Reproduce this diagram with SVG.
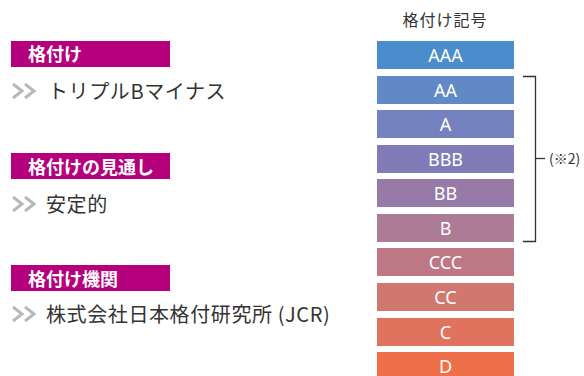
<svg xmlns="http://www.w3.org/2000/svg" width="584" height="376" viewBox="0 0 584 376">
<style>
.hd{fill:#b5007d}
.hdt{font-family:"Noto Sans CJK JP","Noto Sans",sans-serif;font-size:18px;font-weight:bold;fill:#fff}
.body{font-family:"Noto Sans CJK JP","Noto Sans",sans-serif;font-size:20px;fill:#333;letter-spacing:0.6px}
.chev{fill:none;stroke:#b8b8b8;stroke-width:3}
.rt{font-family:"Noto Sans","Noto Sans CJK JP",sans-serif;font-size:18px;fill:#fff;text-anchor:middle}
.ttl{font-family:"Noto Sans CJK JP",sans-serif;font-size:16px;fill:#333;letter-spacing:1px}
.br{fill:none;stroke:#333;stroke-width:1.3}
</style>
<defs>
<g id="chevrons">
<polyline class="chev" points="0,0 9,7 0,14"/>
<polyline class="chev" points="12,0 21,7 12,14"/>
</g>
</defs>
<rect width="584" height="376" fill="#fff"/>
<g id="sec1">
<rect class="hd" x="11" y="41" width="159" height="26"/>
<text class="hdt" x="28" y="61">格付け</text>
<use href="#chevrons" x="13" y="84"/>
<text class="body" x="48" y="99">トリプルBマイナス</text>
</g>
<g id="sec2">
<rect class="hd" x="11" y="153" width="159" height="26"/>
<text class="hdt" x="28" y="174">格付けの見通し</text>
<use href="#chevrons" x="13" y="197"/>
<text class="body" x="46" y="212">安定的</text>
</g>
<g id="sec3">
<rect class="hd" x="11" y="265" width="159" height="26"/>
<text class="hdt" x="28" y="286">格付け機関</text>
<use href="#chevrons" x="13" y="307"/>
<text class="body" x="46" y="322">株式会社日本格付研究所 (JCR)</text>
</g>
<g id="scale">
<text class="ttl" x="445" y="26" text-anchor="middle">格付け記号</text>
<g id="r-AAA"><rect x="377" y="41" width="137" height="28" fill="#4a8dcc"/><text class="rt" x="445.5" y="62">AAA</text></g>
<g id="r-AA"><rect x="377" y="76" width="137" height="28" fill="#6189c6"/><text class="rt" x="445.5" y="97">AA</text></g>
<g id="r-A"><rect x="377" y="110" width="137" height="28" fill="#7482bf"/><text class="rt" x="445.5" y="131">A</text></g>
<g id="r-BBB"><rect x="377" y="145" width="137" height="28" fill="#817bb8"/><text class="rt" x="445.5" y="166">BBB</text></g>
<g id="r-BB"><rect x="377" y="179" width="137" height="28" fill="#977aa8"/><text class="rt" x="445.5" y="200">BB</text></g>
<g id="r-B"><rect x="377" y="214" width="137" height="28" fill="#ac7b95"/><text class="rt" x="445.5" y="235">B</text></g>
<g id="r-CCC"><rect x="377" y="248" width="137" height="28" fill="#be7785"/><text class="rt" x="445.5" y="269">CCC</text></g>
<g id="r-CC"><rect x="377" y="283" width="137" height="28" fill="#d07870"/><text class="rt" x="445.5" y="304">CC</text></g>
<g id="r-C"><rect x="377" y="318" width="137" height="28" fill="#e0735e"/><text class="rt" x="445.5" y="339">C</text></g>
<g id="r-D"><rect x="377" y="352" width="137" height="28" fill="#ee6f48"/><text class="rt" x="445.5" y="373">D</text></g>
</g>
<g id="connectors">
<polyline class="br" points="523,76.5 535.5,76.5 535.5,241.5 523,241.5"/>
<line class="br" x1="535.5" y1="158.5" x2="545" y2="158.5"/>
</g>
<g id="note">
<text x="549" y="164" font-family="'Noto Sans CJK JP',sans-serif" font-size="14" fill="#333">(※2)</text>
</g>
</svg>
